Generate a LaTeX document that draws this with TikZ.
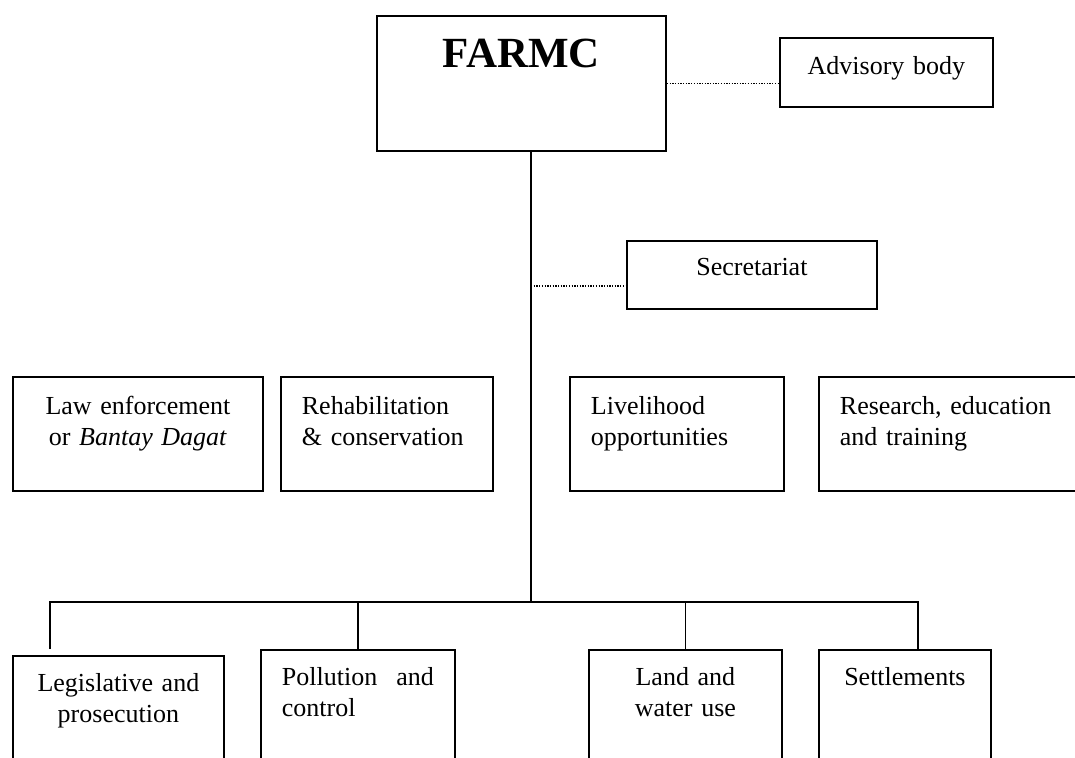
\documentclass[tikz,border=0pt]{standalone}
\usepackage{fontspec}
\setmainfont{Liberation Serif}

\begin{document}
\begin{tikzpicture}[x=1pt, y=-1pt, line width=1.8pt,
    unit/.style={draw, anchor=north west, inner xsep=21pt, inner ysep=0pt,
                 font=\fontsize{26}{30.5}\selectfont},
    boxdim/.style n args={3}{minimum width=#1pt, minimum height=#2pt,
                 text width=#1pt-42pt, text height=#3pt, text depth=#2pt-#3pt},
    link/.style={line width=1.3pt, dash pattern=on 1.3pt off 1.4pt}]
  \useasboundingbox (0,0) rectangle (1075,757);
  \clip (0,0) rectangle (1075,757);
  \path node (farmc)       at (376,15)  [unit, boxdim={289}{135}{52}, align=center,
                                         font=\fontsize{43}{50}\selectfont\bfseries] {FARMC}
        node (advisory)    at (779,37)  [unit, boxdim={213}{69}{37}, align=center] {Advisory body}
        node (secretariat) at (626,240) [unit, boxdim={250}{68}{35}, align=center] {Secretariat}
        %
        node (lawenf)      at (12,376)  [unit, boxdim={250}{114}{38}, align=center]
                                        {Law enforcement\\or \textit{Bantay Dagat}}
        node (rehab)       at (280,376) [unit, boxdim={212}{114}{38}, align=left]
                                        {Rehabilitation\\\& conservation}
        node (livelihood)  at (569,376) [unit, boxdim={214}{114}{38}, align=left]
                                        {Livelihood\\opportunities}
        node (research)    at (818,376) [unit, boxdim={270}{114}{38}, align=left]
                                        {Research, education\\and training}
        %
        node (legis)       at (12,655)  [unit, boxdim={211}{120}{36}, align=center]
                                        {Legislative and\\prosecution}
        node (pollution)   at (260,649) [unit, boxdim={194}{120}{36}, align=left]
                                        {Pollution\hfill and\\control}
        node (land)        at (588,649) [unit, boxdim={193}{120}{36}, align=center]
                                        {Land and\\water use}
        node (settle)      at (818,649) [unit, boxdim={172}{120}{36}, align=center]
                                        {Settlements};
  \coordinate (secjoin) at (531,286);
  \coordinate (bus)     at (531,602);
  \coordinate (busL)    at (50,602);
  \coordinate (busR)    at (918,602);
  \coordinate (dropL)   at (50,649);
  \draw (farmc.south -| bus) -- (bus)
        (dropL) -- (busL) -- (busR) -- (busR |- settle.north)
        (pollution.north |- busL) -- (pollution.north)
        (land.north |- busL) -- (land.north);
  \draw [link] (farmc.east) -- (farmc.east -| advisory.west)
               (secjoin) -- (secjoin -| secretariat.west);
\end{tikzpicture}
\end{document}
